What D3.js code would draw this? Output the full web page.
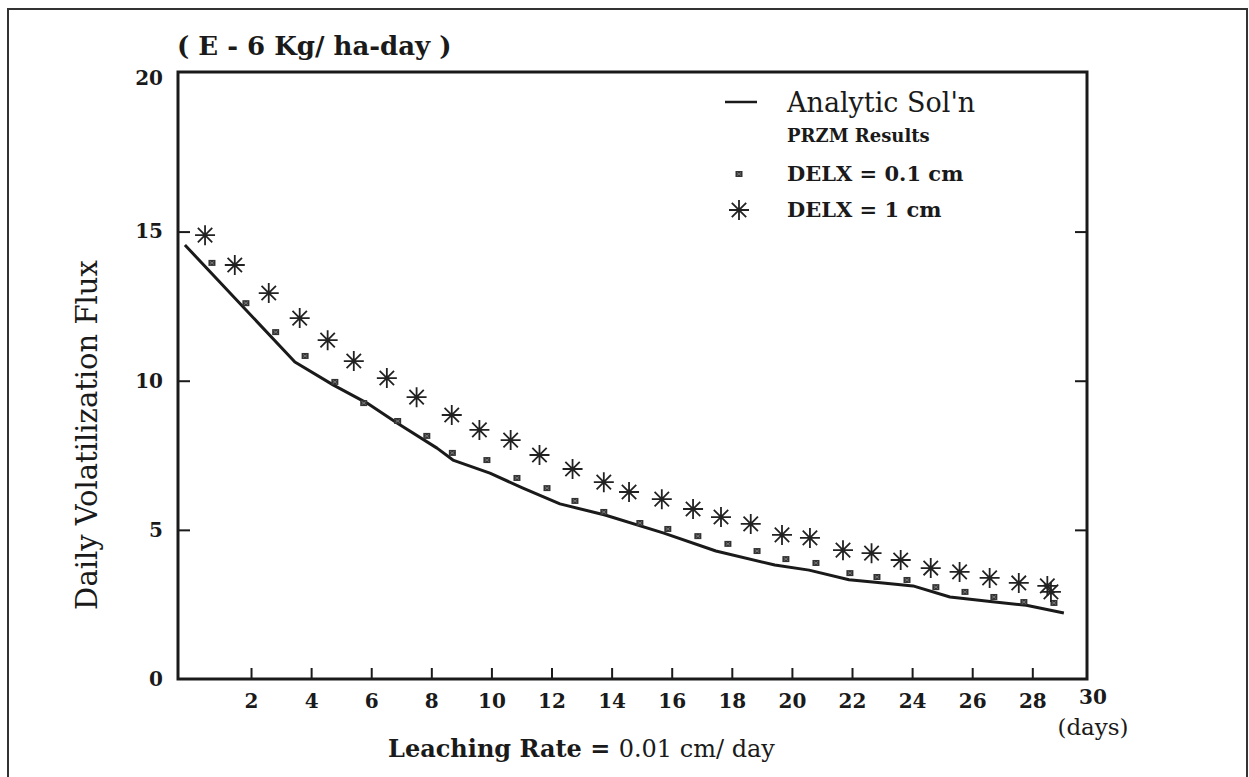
<!DOCTYPE html>
<html>
<head>
<meta charset="utf-8">
<script src="https://cdn.jsdelivr.net/npm/d3@7"></script>
<style>
  html, body { margin: 0; padding: 0; background: #fff; }
  svg { display: block; }
  text { font-family: "DejaVu Serif", "Liberation Serif", serif; fill: #1a1a1a; }
</style>
</head>
<body>
<script>
// values
const lineDays = [-0.2, 3.46, 4.73, 5.86, 6.86, 8.19, 8.72, 9.95, 11.05, 12.28, 13.78, 15.74, 17.47, 19.43, 20.57, 21.9, 23.03, 24.03, 25.26, 26.6, 27.8, 29.05];
const lineFlux = [14.55, 10.63, 9.86, 9.25, 8.58, 7.74, 7.34, 6.9, 6.4, 5.87, 5.5, 4.89, 4.29, 3.82, 3.65, 3.33, 3.22, 3.12, 2.75, 2.6, 2.47, 2.21];

const smallDays = [0.7, 1.83, 2.82, 3.8, 4.79, 5.75, 6.88, 7.85, 8.7, 9.85, 10.85, 11.85, 12.78, 13.74, 14.94, 15.87, 16.87, 17.87, 18.84, 19.8, 20.8, 21.93, 22.83, 23.83, 24.79, 25.76, 26.72, 27.72, 28.72];
const smallFlux = [13.95, 12.6, 11.63, 10.83, 9.96, 9.25, 8.65, 8.15, 7.58, 7.34, 6.74, 6.4, 5.97, 5.6, 5.23, 5.03, 4.79, 4.53, 4.29, 4.02, 3.89, 3.55, 3.42, 3.32, 3.08, 2.92, 2.75, 2.58, 2.55];

const starDays = [0.47, 1.46, 2.59, 3.62, 4.55, 5.42, 6.52, 7.51, 8.68, 9.6, 10.64, 11.6, 12.7, 13.74, 14.58, 15.67, 16.71, 17.64, 18.63, 19.67, 20.6, 21.7, 22.65, 23.62, 24.62, 25.58, 26.58, 27.55, 28.5, 28.62];
const starFlux = [14.88, 13.88, 12.94, 12.1, 11.36, 10.66, 10.09, 9.45, 8.85, 8.35, 8.01, 7.51, 7.04, 6.6, 6.27, 6.03, 5.7, 5.43, 5.2, 4.83, 4.73, 4.32, 4.22, 3.99, 3.72, 3.59, 3.39, 3.22, 3.12, 2.92];

const xTicks = [2, 4, 6, 8, 10, 12, 14, 16, 18, 20, 22, 24, 26, 28, 30];
const yTicks = [0, 5, 10, 15, 20];

const width = 1249;
const height = 777;
const ink = '#1a1a1a';

const svg = d3.select('body').append('svg')
  .attr('width', width)
  .attr('height', height);

// outer frame of the scanned page
svg.append('rect')
  .attr('x', 8).attr('y', 9)
  .attr('width', 1239).attr('height', 800)
  .attr('fill', 'none').attr('stroke', '#333').attr('stroke-width', 2);

const plotLeft = 178, plotRight = 1087, plotTop = 72, plotBottom = 679;

const x = d3.scaleLinear().domain([-0.43, 29.82]).range([plotLeft, plotRight]);
const y = d3.scaleLinear().domain([0, 20.35]).range([plotBottom, plotTop]);

// x axis
const gx = svg.append('g')
  .attr('transform', `translate(0,${plotBottom})`)
  .call(d3.axisBottom(x).tickValues(xTicks).tickSize(-11).tickPadding(15).tickFormat(d3.format('d')));
gx.select('.domain').remove();
gx.selectAll('.tick line').attr('stroke', ink).attr('stroke-width', 2)
  .filter(d => d === 30).remove();
gx.selectAll('.tick text')
  .attr('fill', ink)
  .style('font-size', '20px')
  .style('font-weight', 'bold')
  .attr('dy', '0.71em');
gx.selectAll('.tick text').filter(d => d === 30).attr('y', 11);

// y axis (left)
const gy = svg.append('g')
  .attr('transform', `translate(${plotLeft},0)`)
  .call(d3.axisLeft(y).tickValues(yTicks).tickSize(-12).tickPadding(15));
gy.select('.domain').remove();
gy.selectAll('.tick line').attr('stroke', ink).attr('stroke-width', 2)
  .filter(d => d === 0 || d === 20).remove();
gy.selectAll('.tick text')
  .attr('fill', ink)
  .style('font-size', '20px')
  .style('font-weight', 'bold');
gy.selectAll('.tick').filter(d => d === 20)
  .attr('transform', `translate(0,${plotTop + 7})`);

// right side ticks
const gr = svg.append('g')
  .attr('transform', `translate(${plotRight},0)`)
  .call(d3.axisRight(y).tickValues([5, 10, 15]).tickSize(-12).tickFormat(''));
gr.select('.domain').remove();
gr.selectAll('.tick line').attr('stroke', ink).attr('stroke-width', 2);

// plot box
svg.append('rect')
  .attr('x', plotLeft).attr('y', plotTop)
  .attr('width', plotRight - plotLeft).attr('height', plotBottom - plotTop)
  .attr('fill', 'none').attr('stroke', ink).attr('stroke-width', 3);

// analytic solution
const lineData = lineDays.map((d, i) => [d, lineFlux[i]]);
svg.append('path')
  .datum(lineData)
  .attr('fill', 'none')
  .attr('stroke', ink)
  .attr('stroke-width', 3)
  .attr('stroke-linejoin', 'round')
  .attr('d', d3.line().x(d => x(d[0])).y(d => y(d[1])));

// DELX = 0.1 cm : small blobs
function smallMark(sel) {
  sel.append('rect').attr('x', -3.5).attr('y', -3).attr('width', 7).attr('height', 6)
    .attr('fill', '#333');
  sel.append('path').attr('d', 'M-2,-1.5L2,1.5M-2,1.5L2,-1.5')
    .attr('stroke', '#888').attr('stroke-width', 0.8);
}
svg.append('g').selectAll('g')
  .data(smallDays.map((d, i) => [d, smallFlux[i]]))
  .enter().append('g')
  .attr('transform', d => `translate(${x(d[0])},${y(d[1])})`)
  .call(smallMark);

// DELX = 1 cm : asterisks
const r = 10, rd = r * 0.72;
const starPath = `M${-r},0L${r},0M0,${-r}L0,${r}M${-rd},${-rd}L${rd},${rd}M${-rd},${rd}L${rd},${-rd}`;
svg.append('g').selectAll('path')
  .data(starDays.map((d, i) => [d, starFlux[i]]))
  .enter().append('path')
  .attr('transform', d => `translate(${x(d[0])},${y(d[1])})`)
  .attr('d', starPath)
  .attr('fill', 'none')
  .attr('stroke', '#222')
  .attr('stroke-width', 1.8);

// legend
svg.append('line')
  .attr('x1', 725).attr('x2', 757).attr('y1', 102).attr('y2', 102)
  .attr('stroke', ink).attr('stroke-width', 2.5);
svg.append('text').attr('x', 787).attr('y', 112)
  .style('font-size', '27px').text("Analytic Sol'n");
svg.append('text').attr('x', 787).attr('y', 142)
  .style('font-size', '18px').style('font-weight', 'bold').text('PRZM Results');
svg.append('g').attr('transform', 'translate(739,174)').call(smallMark);
svg.append('text').attr('x', 787).attr('y', 181)
  .style('font-size', '21px').style('font-weight', 'bold').text('DELX = 0.1 cm');
svg.append('path').attr('transform', 'translate(739,210)').attr('d', starPath)
  .attr('fill', 'none').attr('stroke', '#222').attr('stroke-width', 1.8);
svg.append('text').attr('x', 787).attr('y', 217)
  .style('font-size', '21px').style('font-weight', 'bold').text('DELX = 1 cm');

// titles
svg.append('text').attr('x', 177).attr('y', 55)
  .style('font-size', '26px').style('font-weight', 'bold').text('( E - 6 Kg/ ha-day )');

const xt = svg.append('text').attr('x', 388).attr('y', 757).style('font-size', '24px');
xt.append('tspan').style('font-weight', 'bold').text('Leaching Rate = ');
xt.append('tspan').text('0.01 cm/ day');

svg.append('text').attr('x', 1093).attr('y', 735)
  .attr('text-anchor', 'middle').style('font-size', '23px').text('(days)');

svg.append('text')
  .attr('transform', 'translate(97,435) rotate(-90)')
  .attr('text-anchor', 'middle')
  .style('font-size', '29px')
  .text('Daily Volatilization Flux');
</script>
</body>
</html>
